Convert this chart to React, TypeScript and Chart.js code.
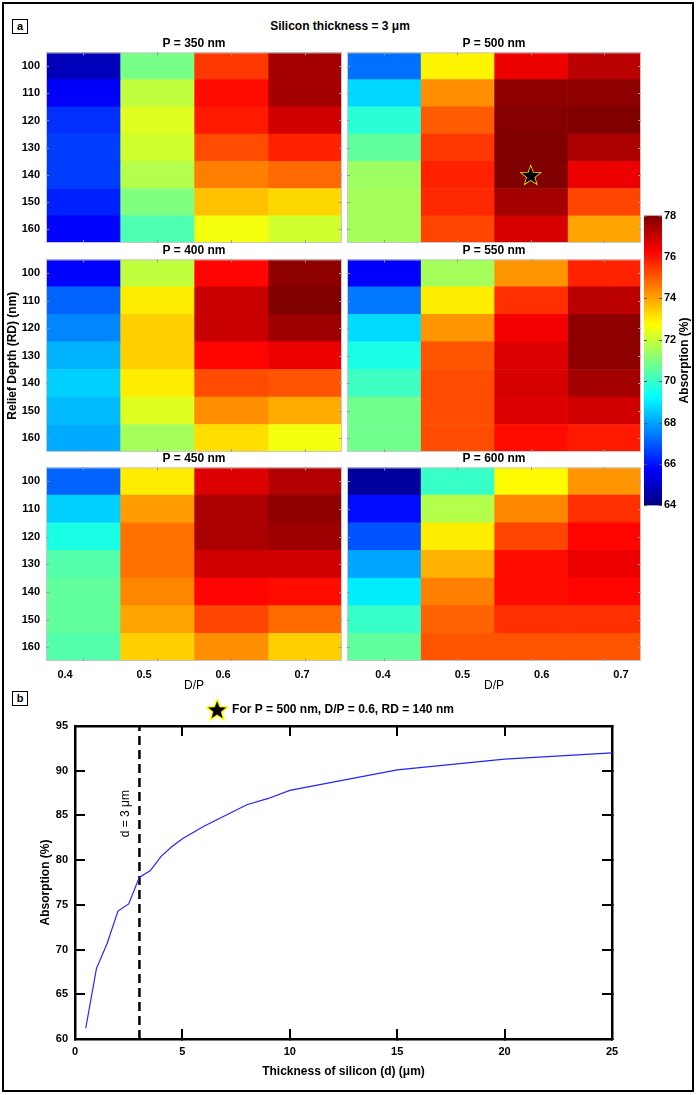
import React, { useEffect, useRef } from 'react';
import { Chart, registerables } from 'chart.js';

Chart.register(...registerables);

const FONT = "'Liberation Sans', Arial, Helvetica, sans-serif";
Chart.defaults.font.family = FONT;
Chart.defaults.color = '#000';

// ---------- DATA ----------
const RELIEF_DEPTH = [100, 110, 120, 130, 140, 150, 160];
const DP_RATIO = [0.4, 0.5, 0.6, 0.7];
const COLOR_MIN = 64;
const COLOR_MAX = 78;
const COLORBAR_TICKS = [64, 66, 68, 70, 72, 74, 76, 78];

// rows: RD 100..160 ; columns: D/P 0.4, 0.5, 0.6, 0.7  (absorption %)
const ABS_P350 = [
  [64.8, 70.9, 75.5, 77.5],
  [65.7, 71.9, 76.1, 77.5],
  [66.4, 72.3, 75.9, 76.9],
  [66.6, 72.1, 75.2, 75.8],
  [66.6, 71.7, 74.5, 74.8],
  [66.2, 71.0, 73.6, 73.3],
  [65.8, 70.3, 72.6, 72.1],
];
const ABS_P500 = [
  [67.3, 72.9, 76.5, 77.2],
  [68.7, 74.3, 77.8, 77.8],
  [69.8, 75.0, 77.9, 78.0],
  [70.6, 75.5, 78.0, 77.4],
  [71.4, 75.8, 78.0, 76.5],
  [71.5, 75.7, 77.5, 75.3],
  [71.5, 75.3, 76.8, 74.0],
];
const ABS_P400 = [
  [65.8, 71.9, 76.2, 77.8],
  [67.1, 73.0, 77.0, 78.0],
  [67.6, 73.4, 77.0, 77.6],
  [68.2, 73.4, 76.2, 76.5],
  [68.6, 73.0, 75.2, 75.1],
  [68.3, 72.3, 74.3, 73.9],
  [68.1, 71.5, 73.2, 72.6],
];
const ABS_P550 = [
  [65.7, 71.5, 74.2, 75.8],
  [67.4, 73.0, 75.6, 77.2],
  [68.75, 74.2, 76.4, 77.8],
  [69.6, 75.1, 76.7, 77.8],
  [70.1, 75.2, 76.8, 77.5],
  [70.8, 75.2, 76.7, 76.9],
  [70.8, 75.2, 76.1, 75.9],
];
const ABS_P450 = [
  [67.1, 73.0, 76.7, 77.3],
  [68.6, 74.1, 77.4, 77.8],
  [69.6, 74.7, 77.4, 77.6],
  [70.4, 74.7, 76.9, 76.9],
  [70.6, 74.4, 76.2, 76.1],
  [70.6, 74.0, 75.3, 74.8],
  [70.4, 73.4, 74.3, 73.4],
];
const ABS_P600 = [
  [64.4, 70.0, 72.8, 74.2],
  [65.9, 71.7, 74.4, 75.6],
  [66.9, 73.0, 75.3, 76.2],
  [68.0, 73.8, 76.1, 76.5],
  [69.0, 74.5, 76.1, 76.2],
  [70.0, 74.9, 75.6, 75.6],
  [70.6, 75.1, 75.1, 75.1],
];

// optimum marked with a star (P = 500 nm)
const STAR_RD = 140;
const STAR_DP = 0.6;

// panel b
const THICKNESS_UM = [0.5, 1, 1.5, 2, 2.5, 3, 3.5, 4, 4.5, 5, 6, 7, 8, 9, 10, 15, 20, 25];
const ABSORPTION_PCT = [61.2, 67.9, 70.7, 74.3, 75.1, 78.1, 78.8, 80.4, 81.5, 82.4, 83.8, 85.0, 86.2, 86.9, 87.8, 90.1, 91.3, 92.0];
const MARKED_THICKNESS = 3;
const X_TICKS_B = [0, 5, 10, 15, 20, 25];
const Y_TICKS_B = [60, 65, 70, 75, 80, 85, 90, 95];
const LEGEND_TEXT = 'For P = 500 nm, D/P = 0.6, RD = 140 nm';

// ---------- helpers ----------
function jetRGB(t: number): [number, number, number] {
  const c = (v: number) => Math.max(0, Math.min(1, v));
  return [
    c(Math.min(4 * t - 1.5, -4 * t + 4.5)),
    c(Math.min(4 * t - 0.5, -4 * t + 3.5)),
    c(Math.min(4 * t + 0.5, -4 * t + 2.5)),
  ];
}
function rgbStr(c: [number, number, number]) {
  return `rgb(${Math.round(c[0] * 255)},${Math.round(c[1] * 255)},${Math.round(c[2] * 255)})`;
}
function jetColor(v: number) {
  const t = Math.max(0, Math.min(1, (v - COLOR_MIN) / (COLOR_MAX - COLOR_MIN)));
  return rgbStr(jetRGB(t));
}

function drawStar(ctx: CanvasRenderingContext2D, cx: number, cy: number, R: number, fill: string, stroke: string, lw: number) {
  const r = R * 0.42;
  ctx.beginPath();
  for (let i = 0; i < 10; i++) {
    const ang = -Math.PI / 2 + (i * Math.PI) / 5;
    const rad = i % 2 === 0 ? R : r;
    const px = cx + rad * Math.cos(ang);
    const py = cy + rad * Math.sin(ang);
    if (i === 0) ctx.moveTo(px, py);
    else ctx.lineTo(px, py);
  }
  ctx.closePath();
  ctx.lineJoin = 'miter';
  ctx.lineWidth = lw;
  ctx.strokeStyle = stroke;
  ctx.stroke();
  ctx.fillStyle = fill;
  ctx.fill();
}

function makeStarImage() {
  const cv = document.createElement('canvas');
  cv.width = 22;
  cv.height = 22;
  const ctx = cv.getContext('2d')!;
  drawStar(ctx, 11, 11.5, 9.5, '#000', '#ffff00', 3);
  return cv;
}

const heatDecor = {
  id: 'heatDecor',
  afterDatasetsDraw(chart: any, _args: any, opts: any) {
    const { ctx, chartArea: a, scales } = chart;
    ctx.save();
    ctx.strokeStyle = '#c8c8c8';
    ctx.lineWidth = 1;
    ctx.strokeRect(a.left + 0.5, a.top + 0.5, a.width - 1, a.height - 1);
    ctx.strokeStyle = '#9a9a9a';
    ctx.beginPath();
    DP_RATIO.forEach((_, c) => {
      const x = Math.round(scales.x.getPixelForValue(c + 0.5)) + 0.5;
      ctx.moveTo(x, a.top);
      ctx.lineTo(x, a.top + 3);
      ctx.moveTo(x, a.bottom);
      ctx.lineTo(x, a.bottom - 3);
    });
    RELIEF_DEPTH.forEach((_, r) => {
      const y = Math.round(scales.y.getPixelForValue(r)) + 0.5;
      ctx.moveTo(a.left, y);
      ctx.lineTo(a.left + 3, y);
      ctx.moveTo(a.right, y);
      ctx.lineTo(a.right - 3, y);
    });
    ctx.stroke();
    if (opts && opts.star) {
      const col = DP_RATIO.indexOf(opts.star.dp);
      const row = RELIEF_DEPTH.indexOf(opts.star.rd);
      const x = scales.x.getPixelForValue(col + 0.5);
      const y = scales.y.getPixelForValue(row);
      drawStar(ctx, x, y + 1, 9.5, '#000', '#ffee00', 1.6);
    }
    ctx.restore();
  },
};

function heatmapConfig(
  values: number[][],
  title: string,
  o: { showY: boolean; yTitle?: string; xRange?: [number, number]; star?: { rd: number; dp: number } }
): any {
  const scales: any = {
    x: { type: 'linear', stacked: true, min: 0, max: DP_RATIO.length, display: false },
    y: {
      type: 'category',
      stacked: true,
      display: o.showY,
      grid: { display: false, drawTicks: false },
      border: { display: false },
      ticks: { autoSkip: false, padding: 6, color: '#000', font: { size: 11, weight: 'bold' } },
      title: o.yTitle
        ? { display: true, text: o.yTitle, color: '#000', font: { size: 12, weight: 'bold' }, padding: { top: 5, bottom: 0 } }
        : { display: false },
      afterFit: (s: any) => {
        s.width = o.showY ? 46 : 0;
        s.paddingTop = 0;
        s.paddingBottom = 0;
      },
    },
  };
  if (o.xRange) {
    scales.x2 = {
      type: 'linear',
      position: 'bottom',
      min: o.xRange[0],
      max: o.xRange[1],
      afterBuildTicks: (s: any) => {
        s.ticks = DP_RATIO.map((v) => ({ value: v }));
      },
      ticks: {
        padding: 7,
        color: '#000',
        font: { size: 11, weight: 'bold' },
        callback: (v: any) => Number(v).toFixed(1),
      },
      grid: { display: false, drawTicks: false },
      border: { display: false },
      title: { display: true, text: 'D/P', color: '#000', font: { size: 12 }, padding: { top: 0, bottom: 0 } },
      afterFit: (s: any) => {
        s.height = 32;
        s.paddingLeft = 0;
        s.paddingRight = 0;
      },
    };
  }
  return {
    type: 'bar',
    data: {
      labels: RELIEF_DEPTH.map(String),
      datasets: DP_RATIO.map((dp, c) => ({
        label: `D/P = ${dp}`,
        data: RELIEF_DEPTH.map(() => 1),
        backgroundColor: values.map((row) => jetColor(row[c])),
        borderWidth: 0,
        barPercentage: 1,
        categoryPercentage: 1,
      })),
    },
    options: {
      indexAxis: 'y',
      animation: false,
      responsive: false,
      devicePixelRatio: 1,
      events: [],
      layout: { padding: 0 },
      plugins: {
        legend: { display: false },
        tooltip: { enabled: false },
        title: {
          display: true,
          text: title,
          fullSize: false,
          color: '#000',
          font: { size: 12, weight: 'bold', lineHeight: 1.2 },
          padding: { top: 0, bottom: 2 },
        },
        heatDecor: { star: o.star },
      },
      scales,
    },
    plugins: [heatDecor],
  };
}

const colorbarDecor = {
  id: 'colorbarDecor',
  afterDatasetsDraw(chart: any) {
    const { ctx, chartArea: a, scales } = chart;
    ctx.save();
    ctx.strokeStyle = '#555';
    ctx.lineWidth = 1;
    ctx.beginPath();
    COLORBAR_TICKS.forEach((v) => {
      const y = Math.round(scales.y.getPixelForValue(v)) + 0.5;
      ctx.moveTo(a.left, y);
      ctx.lineTo(a.left + 3, y);
      ctx.moveTo(a.right, y);
      ctx.lineTo(a.right - 3, y);
    });
    ctx.stroke();
    ctx.translate(a.right + 23, (a.top + a.bottom) / 2);
    ctx.rotate(-Math.PI / 2);
    ctx.fillStyle = '#000';
    ctx.font = `bold 12px ${FONT}`;
    ctx.textAlign = 'center';
    ctx.textBaseline = 'middle';
    ctx.fillText('Absorption (%)', 0, 0);
    ctx.restore();
  },
};

function colorbarConfig(): any {
  return {
    type: 'bar',
    data: {
      labels: ['Absorption (%)'],
      datasets: [
        {
          label: 'Absorption (%)',
          data: [[COLOR_MIN, COLOR_MAX]],
          backgroundColor: (c: any) => {
            const chart = c.chart;
            const a = chart.chartArea;
            if (!a) return 'rgb(0,0,255)';
            const g = chart.ctx.createLinearGradient(0, a.bottom, 0, a.top);
            [0, 0.125, 0.375, 0.625, 0.875, 1].forEach((t) => g.addColorStop(t, rgbStr(jetRGB(t))));
            return g;
          },
          borderWidth: 0,
          barPercentage: 1,
          categoryPercentage: 1,
        },
      ],
    },
    options: {
      animation: false,
      responsive: false,
      devicePixelRatio: 1,
      events: [],
      layout: { padding: { top: 8, bottom: 8, left: 0, right: 0 } },
      plugins: { legend: { display: false }, tooltip: { enabled: false } },
      scales: {
        x: { display: false },
        y: {
          position: 'right',
          min: COLOR_MIN,
          max: COLOR_MAX,
          afterBuildTicks: (s: any) => {
            s.ticks = COLORBAR_TICKS.map((v) => ({ value: v }));
          },
          ticks: { padding: 2, color: '#000', font: { size: 11, weight: 'bold' } },
          grid: { display: false, drawTicks: false },
          border: { display: false },
          afterFit: (s: any) => {
            s.width = 30;
          },
        },
      },
    },
    plugins: [colorbarDecor],
  };
}

const lineDecor = {
  id: 'lineDecor',
  afterDatasetsDraw(chart: any) {
    const { ctx, scales } = chart;
    const x = scales.x.getPixelForValue(MARKED_THICKNESS) - 14;
    const y = scales.y.getPixelForValue(85.2);
    ctx.save();
    ctx.translate(x, y);
    ctx.rotate(-Math.PI / 2);
    ctx.fillStyle = '#000';
    ctx.font = `12px ${FONT}`;
    ctx.textAlign = 'center';
    ctx.textBaseline = 'middle';
    ctx.fillText(`d = ${MARKED_THICKNESS} μm`, 0, 0);
    ctx.restore();
  },
};

function lineConfig(): any {
  const starImg = makeStarImage();
  const axisGrid = { drawOnChartArea: false, tickLength: -10, lineWidth: 2, color: '#000' };
  const axisBorder = { display: true, width: 2.5, color: '#000' };
  const tickFont = { size: 11, weight: 'bold' };
  return {
    type: 'line',
    data: {
      datasets: [
        {
          label: 'Absorption',
          data: THICKNESS_UM.map((x, i) => ({ x, y: ABSORPTION_PCT[i] })),
          borderColor: '#2424ff',
          borderWidth: 1.2,
          pointRadius: 0,
          tension: 0,
          fill: false,
        },
        {
          label: `d = ${MARKED_THICKNESS} μm`,
          data: [
            { x: MARKED_THICKNESS, y: Y_TICKS_B[0] },
            { x: MARKED_THICKNESS, y: Y_TICKS_B[Y_TICKS_B.length - 1] },
          ],
          borderColor: '#000',
          borderWidth: 2.5,
          borderDash: [9, 5],
          pointRadius: 0,
          fill: false,
        },
      ],
    },
    options: {
      animation: false,
      responsive: false,
      devicePixelRatio: 1,
      events: [],
      layout: { padding: 0 },
      plugins: {
        tooltip: { enabled: false },
        legend: {
          display: true,
          position: 'top',
          labels: {
            usePointStyle: true,
            pointStyleWidth: 18,
            padding: 7,
            color: '#000',
            font: { size: 12, weight: 'bold' },
            generateLabels: () => [
              {
                text: LEGEND_TEXT,
                pointStyle: starImg,
                fillStyle: '#000',
                strokeStyle: '#ffff00',
                lineWidth: 0,
                hidden: false,
                datasetIndex: 0,
              },
            ],
          },
        },
      },
      scales: {
        x: {
          type: 'linear',
          position: 'bottom',
          min: X_TICKS_B[0],
          max: X_TICKS_B[X_TICKS_B.length - 1],
          afterBuildTicks: (s: any) => {
            s.ticks = X_TICKS_B.map((v) => ({ value: v }));
          },
          ticks: { padding: 16, color: '#000', font: tickFont },
          grid: axisGrid,
          border: axisBorder,
          title: {
            display: true,
            text: 'Thickness of silicon (d) (μm)',
            color: '#000',
            font: { size: 12, weight: 'bold' },
            padding: { top: 0, bottom: 5 },
          },
          afterFit: (s: any) => {
            s.height = 45;
          },
        },
        x2: {
          type: 'linear',
          position: 'top',
          min: X_TICKS_B[0],
          max: X_TICKS_B[X_TICKS_B.length - 1],
          afterBuildTicks: (s: any) => {
            s.ticks = X_TICKS_B.map((v) => ({ value: v }));
          },
          ticks: { display: false },
          grid: axisGrid,
          border: axisBorder,
          afterFit: (s: any) => {
            s.height = 0;
          },
        },
        y: {
          type: 'linear',
          position: 'left',
          min: Y_TICKS_B[0],
          max: Y_TICKS_B[Y_TICKS_B.length - 1],
          afterBuildTicks: (s: any) => {
            s.ticks = Y_TICKS_B.map((v) => ({ value: v }));
          },
          ticks: { padding: 17, color: '#000', font: tickFont },
          grid: axisGrid,
          border: axisBorder,
          title: {
            display: true,
            text: 'Absorption (%)',
            color: '#000',
            font: { size: 12, weight: 'bold' },
            padding: { top: 38, bottom: 0 },
          },
          afterFit: (s: any) => {
            s.width = 75;
          },
        },
        y2: {
          type: 'linear',
          position: 'right',
          min: Y_TICKS_B[0],
          max: Y_TICKS_B[Y_TICKS_B.length - 1],
          afterBuildTicks: (s: any) => {
            s.ticks = Y_TICKS_B.map((v) => ({ value: v }));
          },
          ticks: { display: false },
          grid: axisGrid,
          border: axisBorder,
          afterFit: (s: any) => {
            s.width = 50;
          },
        },
      },
    },
    plugins: [lineDecor],
  };
}

// ---------- components ----------
function ChartCanvas(props: { make: () => any; left: number; top: number; width: number; height: number }) {
  const ref = useRef<HTMLCanvasElement | null>(null);
  useEffect(() => {
    const chart = new Chart(ref.current as HTMLCanvasElement, props.make());
    return () => chart.destroy();
  }, []);
  return (
    <canvas
      ref={ref}
      width={props.width}
      height={props.height}
      style={{ position: 'absolute', left: props.left, top: props.top, width: props.width, height: props.height }}
    />
  );
}

const LEFT_RANGE: [number, number] = [0.3759, 0.7506];
const RIGHT_RANGE: [number, number] = [0.3546, 0.7252];

const panelLabel = (top: number, text: string) => (
  <div
    style={{
      position: 'absolute',
      left: 12,
      top,
      width: 16,
      height: 15,
      boxSizing: 'border-box',
      border: '1.5px solid #000',
      font: `bold 11px ${FONT}`,
      lineHeight: '12px',
      textAlign: 'center',
      color: '#000',
    }}
  >
    {text}
  </div>
);

export default function App() {
  return (
    <div
      style={{
        position: 'absolute',
        left: 0,
        top: 0,
        width: 697,
        height: 1095,
        background: '#fff',
        fontFamily: FONT,
        overflow: 'hidden',
      }}
    >
      <div
        style={{
          position: 'absolute',
          left: 2,
          top: 2,
          width: 692,
          height: 1090,
          boxSizing: 'border-box',
          border: '2.5px solid #000',
        }}
      />
      {panelLabel(19, 'a')}
      {panelLabel(691, 'b')}
      <div
        style={{
          position: 'absolute',
          left: 0,
          top: 19,
          width: 680,
          textAlign: 'center',
          font: `bold 12px ${FONT}`,
          lineHeight: '14px',
          color: '#000',
        }}
      >
        Silicon thickness = 3 μm
      </div>

      <ChartCanvas left={0} top={36} width={342} height={207} make={() => heatmapConfig(ABS_P350, 'P = 350 nm', { showY: true })} />
      <ChartCanvas
        left={347}
        top={36}
        width={294}
        height={207}
        make={() => heatmapConfig(ABS_P500, 'P = 500 nm', { showY: false, star: { rd: STAR_RD, dp: STAR_DP } })}
      />
      <ChartCanvas
        left={0}
        top={243}
        width={342}
        height={209}
        make={() => heatmapConfig(ABS_P400, 'P = 400 nm', { showY: true, yTitle: 'Relief Depth (RD) (nm)' })}
      />
      <ChartCanvas left={347} top={243} width={294} height={209} make={() => heatmapConfig(ABS_P550, 'P = 550 nm', { showY: false })} />
      <ChartCanvas
        left={0}
        top={451}
        width={342}
        height={242}
        make={() => heatmapConfig(ABS_P450, 'P = 450 nm', { showY: true, xRange: LEFT_RANGE })}
      />
      <ChartCanvas
        left={347}
        top={451}
        width={294}
        height={242}
        make={() => heatmapConfig(ABS_P600, 'P = 600 nm', { showY: false, xRange: RIGHT_RANGE })}
      />
      <ChartCanvas left={644} top={207} width={48} height={307} make={colorbarConfig} />
      <ChartCanvas left={0} top={697} width={662} height={387} make={lineConfig} />
    </div>
  );
}
